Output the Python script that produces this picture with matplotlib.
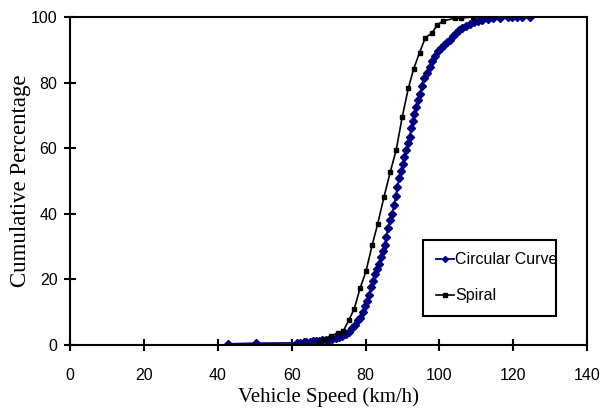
import matplotlib
matplotlib.use("Agg")
import matplotlib.pyplot as plt

# Circular curve: speed (km/h) and cumulative percentage
circ_speed = [42.7, 50.4, 61.4, 62.3, 63.2, 64.0, 64.9, 65.7, 66.6, 67.5,
              68.3, 69.2, 70.1, 71.0, 71.9, 72.8, 73.7, 74.6, 75.4, 76.3,
              77.2, 78.0, 78.6, 79.2, 79.8, 80.4, 80.9, 81.5, 82.0, 82.5,
              83.0, 83.6, 84.1, 84.7, 85.2, 85.6, 86.1, 86.6, 87.2, 87.7,
              88.2, 88.6, 89.1, 89.6, 90.1, 90.5, 91.0, 91.5, 91.9, 92.4,
              92.8, 93.2, 93.7, 94.2, 94.7, 95.2, 95.7, 96.5, 97.3, 98.1,
              98.9, 99.6, 100.4, 101.2, 102.1, 102.9, 103.7, 104.5, 105.3, 106.1,
              107.1, 108.2, 109.3, 110.5, 111.6, 113.0, 114.5, 116.5, 118.6, 119.5,
              121.0, 122.3, 124.6]
circ_pct = [0.3, 0.5, 0.6, 0.7, 0.8, 0.9, 1.0, 1.1, 1.2, 1.3,
            1.4, 1.5, 1.6, 1.8, 2.0, 2.3, 2.7, 3.3, 4.0, 5.0,
            6.2, 7.5, 8.1, 10.0, 12.0, 13.5, 15.2, 17.5, 19.5, 21.5,
            23.0, 24.6, 26.8, 28.5, 30.3, 33.0, 35.5, 38.0, 40.0, 42.5,
            45.5, 48.0, 50.8, 53.0, 55.0, 57.3, 59.5, 61.5, 63.5, 66.0,
            68.3, 70.4, 72.5, 74.6, 76.6, 79.0, 81.5, 83.0, 84.8, 86.5,
            88.2, 89.5, 90.6, 91.5, 92.3, 93.1, 94.1, 95.0, 95.9, 96.6,
            97.3, 97.9, 98.4, 98.8, 99.1, 99.4, 99.6, 99.8, 99.9, 100,
            100, 100, 100]

# Spiral: speed (km/h) and cumulative percentage
spiral_speed = [67.5, 69.1, 70.7, 72.5, 74.0, 75.5, 76.9, 78.5, 80.1, 81.8,
                83.3, 85.0, 86.7, 88.3, 89.9, 91.6, 93.0, 94.6, 96.2, 97.9,
                99.4, 101.0, 104.3, 105.7, 109.1]
spiral_pct = [1.0, 1.8, 2.8, 3.6, 4.3, 7.6, 10.9, 17.2, 22.4, 30.5,
              37.0, 45.2, 52.8, 59.5, 69.4, 78.4, 84.1, 89.1, 93.7, 95.0,
              97.6, 98.8, 99.6, 99.6, 100]

fig = plt.figure(figsize=(6.05, 4.13), dpi=100)
ax = fig.add_axes([0.1157, 0.165, 0.855, 0.794])

ax.plot(circ_speed, circ_pct, color='#000080', marker='D', markersize=3.8,
        linewidth=1.3, label='Circular Curve')
ax.plot(spiral_speed, spiral_pct, color='black', marker='s', markersize=3.5,
        linewidth=1.2, label='Spiral')

ax.set_xlim(0, 140)
ax.set_ylim(0, 100)
ax.set_xticks(range(0, 141, 20))
ax.set_yticks(range(0, 101, 20))

for s in ax.spines.values():
    s.set_linewidth(1.5)
ax.tick_params(direction='inout', length=8, width=1.5, labelsize=11.5)
ax.tick_params(axis='x', pad=13)
ax.tick_params(axis='y', pad=5)
for lab in ax.get_xticklabels() + ax.get_yticklabels():
    lab.set_family('Liberation Sans')

ax.set_xlabel('Vehicle Speed (km/h)', family='Liberation Serif', fontsize=15, labelpad=3)
ax.set_ylabel('Cumulative Percentage', family='Liberation Serif', fontsize=16.5, labelpad=0)

leg = ax.legend(loc='lower left', bbox_to_anchor=(0.683, 0.088, 0.257, 0.232),
                mode='expand', borderaxespad=0, fancybox=False, framealpha=1,
                edgecolor='black', handlelength=1.1, handletextpad=0.1,
                labelspacing=1.3, borderpad=0.8,
                prop={'family': 'Liberation Sans', 'size': 11.5})
leg.get_frame().set_linewidth(1.5)
for h in leg.legend_handles:
    h.set_markersize(3)

fig.savefig('out.png', dpi=100)
